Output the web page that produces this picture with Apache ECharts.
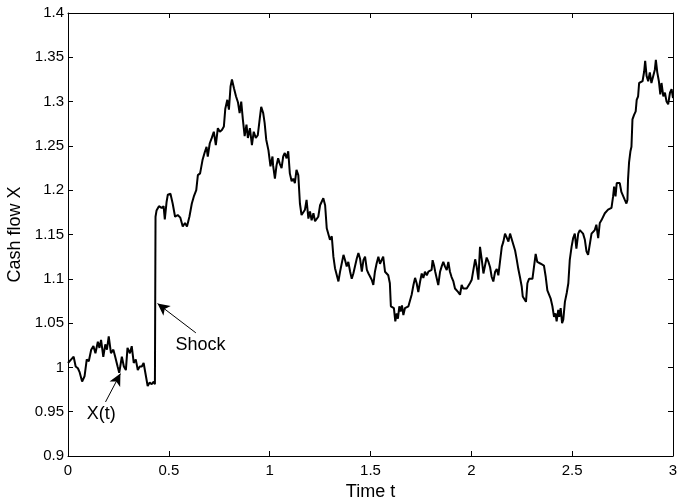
<!DOCTYPE html>
<html>
<head>
<meta charset="utf-8">
<script src="https://cdn.jsdelivr.net/npm/echarts@6/dist/echarts.min.js"></script>
<style>
  html, body { margin: 0; padding: 0; background: #fff; }
  #chart { width: 680px; height: 498px; }
</style>
</head>
<body>
<div id="chart"></div>
<script>
// Sampled path of the cash flow process X(t)
const times = [
  0.000, 0.016, 0.028, 0.038, 0.049, 0.057, 0.070, 0.082, 0.093, 0.103,
  0.115, 0.126, 0.136, 0.148, 0.156, 0.164, 0.175, 0.185, 0.193, 0.202,
  0.213, 0.225, 0.234, 0.246, 0.254, 0.267, 0.277, 0.287, 0.295, 0.307,
  0.316, 0.326, 0.336, 0.346, 0.356, 0.366, 0.375, 0.385, 0.395, 0.405,
  0.415, 0.425, 0.431, 0.434, 0.439, 0.451, 0.464, 0.474, 0.480, 0.489,
  0.495, 0.508, 0.519, 0.531, 0.544, 0.557, 0.569, 0.580, 0.590, 0.602,
  0.614, 0.624, 0.636, 0.644, 0.655, 0.667, 0.677, 0.687, 0.693, 0.703,
  0.713, 0.723, 0.733, 0.743, 0.753, 0.763, 0.773, 0.780, 0.790, 0.798,
  0.806, 0.813, 0.823, 0.833, 0.843, 0.851, 0.859, 0.867, 0.876, 0.885,
  0.892, 0.902, 0.912, 0.921, 0.931, 0.941, 0.951, 0.958, 0.968, 0.975,
  0.983, 0.994, 1.004, 1.014,
  1.017, 1.026, 1.034, 1.042, 1.050, 1.059, 1.067, 1.075, 1.084, 1.092,
  1.100, 1.109, 1.117, 1.125, 1.133, 1.142, 1.150, 1.158, 1.167, 1.175,
  1.183, 1.192, 1.200, 1.208, 1.217, 1.225, 1.233, 1.241, 1.250, 1.258,
  1.266, 1.275, 1.283, 1.291, 1.299, 1.308, 1.316, 1.324, 1.333, 1.341,
  1.349, 1.357, 1.366, 1.374, 1.382, 1.390, 1.399, 1.407, 1.415, 1.424,
  1.432, 1.440, 1.448, 1.457, 1.465, 1.473, 1.482, 1.490, 1.498, 1.506,
  1.514, 1.522, 1.530, 1.539, 1.547, 1.555, 1.563, 1.572, 1.580, 1.588,
  1.596, 1.601, 1.610, 1.616, 1.623, 1.630, 1.636, 1.643, 1.649, 1.656,
  1.663, 1.671, 1.679, 1.688, 1.696, 1.704, 1.713, 1.721, 1.729, 1.737,
  1.746, 1.754, 1.762, 1.770, 1.779, 1.787, 1.795, 1.803, 1.808, 1.815,
  1.821, 1.828, 1.836, 1.845, 1.853, 1.861, 1.869, 1.878, 1.886, 1.894,
  1.902, 1.911, 1.919, 1.927, 1.935, 1.944, 1.952, 1.960, 1.968, 1.977,
  1.985, 1.993, 2.002, 2.010, 2.019, 2.027, 2.035, 2.043, 2.052, 2.060,
  2.068, 2.076, 2.085, 2.093, 2.101, 2.109, 2.118, 2.126, 2.134, 2.142,
  2.151, 2.159, 2.167, 2.175, 2.184, 2.192, 2.200, 2.208, 2.217, 2.225,
  2.233, 2.241, 2.250, 2.255, 2.263, 2.271, 2.278, 2.286, 2.294, 2.303,
  2.311, 2.319, 2.327, 2.336, 2.344, 2.352, 2.360, 2.369, 2.377, 2.385,
  2.393, 2.402, 2.410, 2.417, 2.423, 2.431, 2.436, 2.443, 2.450, 2.456,
  2.464, 2.473, 2.481, 2.488, 2.497, 2.505, 2.513, 2.521, 2.530, 2.538,
  2.546, 2.554, 2.563, 2.571, 2.579, 2.587, 2.596, 2.604, 2.612, 2.620,
  2.629, 2.637, 2.645, 2.654, 2.662, 2.670, 2.678, 2.687, 2.695, 2.703,
  2.708, 2.715, 2.721, 2.728, 2.736, 2.744, 2.753, 2.761, 2.769, 2.774,
  2.777, 2.782, 2.789, 2.794, 2.799, 2.807, 2.815, 2.820, 2.827, 2.832,
  2.840, 2.849, 2.857, 2.862, 2.869, 2.877, 2.885, 2.893, 2.902, 2.910,
  2.915, 2.922, 2.930, 2.937, 2.943, 2.952, 2.960, 2.968, 2.976, 2.985,
  2.993, 3.000
];
const cashFlow = [
  1.005, 1.009, 1.012, 1.001, 0.999, 0.995, 0.984, 0.990, 1.009, 1.007,
  1.020, 1.024, 1.016, 1.029, 1.022, 1.031, 1.012, 1.026, 1.020, 1.035,
  1.016, 1.020, 1.012, 1.001, 0.994, 1.012, 1.001, 0.997, 1.022, 1.016,
  1.024, 1.005, 1.009, 0.997, 1.001, 1.001, 1.005, 0.992, 0.979, 0.983,
  0.981, 0.984, 0.981, 1.170, 1.177, 1.182, 1.180, 1.182, 1.167, 1.187,
  1.195, 1.196, 1.185, 1.170, 1.172, 1.169, 1.159, 1.163, 1.159, 1.170,
  1.185, 1.193, 1.200, 1.217, 1.219, 1.234, 1.242, 1.249, 1.238, 1.253,
  1.259, 1.266, 1.251, 1.270, 1.266, 1.268, 1.272, 1.292, 1.302, 1.291,
  1.317, 1.325, 1.315, 1.306, 1.299, 1.287, 1.300, 1.280, 1.261, 1.274,
  1.259, 1.270, 1.251, 1.266, 1.259, 1.262, 1.281, 1.294, 1.287, 1.276,
  1.257, 1.245, 1.227, 1.238,
  1.228, 1.213, 1.228, 1.236, 1.230, 1.225, 1.238, 1.242, 1.236, 1.244,
  1.219, 1.210, 1.213, 1.208, 1.223, 1.217, 1.185, 1.172, 1.172, 1.178,
  1.189, 1.168, 1.176, 1.166, 1.174, 1.165, 1.163, 1.170, 1.183, 1.187,
  1.191, 1.183, 1.157, 1.155, 1.144, 1.148, 1.125, 1.112, 1.110, 1.097,
  1.108, 1.110, 1.127, 1.121, 1.114, 1.119, 1.108, 1.100, 1.106, 1.108,
  1.123, 1.129, 1.123, 1.108, 1.121, 1.125, 1.110, 1.106, 1.108, 1.099,
  1.093, 1.108, 1.117, 1.125, 1.117, 1.119, 1.125, 1.108, 1.106, 1.104,
  1.095, 1.069, 1.070, 1.067, 1.052, 1.061, 1.055, 1.069, 1.063, 1.070,
  1.059, 1.067, 1.065, 1.069, 1.069, 1.082, 1.093, 1.101, 1.095, 1.085,
  1.097, 1.106, 1.101, 1.108, 1.104, 1.108, 1.106, 1.110, 1.121, 1.115,
  1.108, 1.101, 1.093, 1.108, 1.114, 1.119, 1.114, 1.110, 1.119, 1.108,
  1.102, 1.097, 1.089, 1.087, 1.085, 1.082, 1.093, 1.089, 1.091, 1.089,
  1.087, 1.095, 1.099, 1.099, 1.122, 1.113, 1.099, 1.136, 1.121, 1.106,
  1.115, 1.124, 1.119, 1.113, 1.102, 1.097, 1.108, 1.111, 1.104, 1.119,
  1.136, 1.142, 1.151, 1.153, 1.142, 1.151, 1.145, 1.143, 1.132, 1.122,
  1.111, 1.102, 1.091, 1.080, 1.078, 1.074, 1.095, 1.100, 1.099, 1.100,
  1.102, 1.128, 1.119, 1.119, 1.117, 1.115, 1.115, 1.102, 1.087, 1.085,
  1.078, 1.069, 1.057, 1.061, 1.052, 1.065, 1.057, 1.067, 1.050, 1.054,
  1.074, 1.084, 1.095, 1.121, 1.136, 1.146, 1.151, 1.134, 1.151, 1.155,
  1.153, 1.151, 1.144, 1.131, 1.127, 1.129, 1.151, 1.153, 1.155, 1.161,
  1.146, 1.163, 1.166, 1.165, 1.174, 1.176, 1.178, 1.180, 1.180, 1.193,
  1.204, 1.193, 1.208, 1.210, 1.208, 1.198, 1.197, 1.189, 1.185, 1.189,
  1.212, 1.231, 1.244, 1.249, 1.280, 1.285, 1.289, 1.302, 1.306, 1.321,
  1.321, 1.323, 1.334, 1.346, 1.329, 1.323, 1.333, 1.321, 1.329, 1.336,
  1.347, 1.333, 1.323, 1.308, 1.321, 1.306, 1.310, 1.300, 1.297, 1.310,
  1.314, 1.304
];

// Axis ticks
const xTicks = [0, 0.5, 1, 1.5, 2, 2.5, 3];
const yTicks = [0.9, 0.95, 1, 1.05, 1.1, 1.15, 1.2, 1.25, 1.3, 1.35, 1.4];
const xStep = 0.5;
const yStep = 0.05;

// Annotations: label anchor, arrow tail and arrow head in data units
const shockNote = { text: 'Shock', at: [0.533, 1.025], from: [0.634, 1.039], to: [0.444, 1.072] };
const pathNote = { text: 'X(t)', at: [0.093, 0.947], from: [0.186, 0.961], to: [0.260, 0.993] };

const FONT = 'Liberation Sans, Arial, sans-serif';
const chart = echarts.init(document.getElementById('chart'), null, { renderer: 'canvas' });

// Label text for a tick value, trimmed of floating-point noise
function tickText(v) {
  return String(parseFloat(v.toFixed(4)));
}

const baseAxis = {
  type: 'value',
  axisLine: { show: true, onZero: false, lineStyle: { color: '#000', width: 1 } },
  axisTick: { show: true, inside: true, length: 5, lineStyle: { color: '#000', width: 1 } },
  splitLine: { show: false },
  axisLabel: { color: '#000', fontFamily: FONT, fontSize: 15, formatter: tickText }
};

function note(n) {
  return [
    { coord: n.from, symbol: 'none' },
    { coord: n.to, symbol: 'arrow', symbolSize: [9, 12] }
  ];
}

chart.setOption({
  animation: false,
  backgroundColor: '#fff',
  grid: { left: 68, right: 7, top: 13, bottom: 42, containLabel: false, outerBoundsMode: 'none' },
  xAxis: [
    Object.assign({}, baseAxis, {
      min: xTicks[0], max: xTicks[xTicks.length - 1], interval: xStep,
      position: 'bottom',
      name: 'Time t', nameLocation: 'middle', nameGap: 22,
      nameTextStyle: { color: '#000', fontFamily: FONT, fontSize: 18 },
      axisLabel: Object.assign({}, baseAxis.axisLabel, { margin: 7, showMaxLabel: true, showMinLabel: true })
    }),
    Object.assign({}, baseAxis, {
      min: xTicks[0], max: xTicks[xTicks.length - 1], interval: xStep,
      position: 'top', axisLabel: { show: false }
    })
  ],
  yAxis: [
    Object.assign({}, baseAxis, {
      min: yTicks[0], max: yTicks[yTicks.length - 1], interval: yStep,
      position: 'left',
      name: 'Cash flow X', nameLocation: 'middle', nameGap: 42,
      nameTextStyle: { color: '#000', fontFamily: FONT, fontSize: 18 },
      axisLabel: Object.assign({}, baseAxis.axisLabel, { margin: 4 })
    }),
    Object.assign({}, baseAxis, {
      min: yTicks[0], max: yTicks[yTicks.length - 1], interval: yStep,
      position: 'right', axisLabel: { show: false }
    })
  ],
  series: [{
    type: 'line',
    data: times.map((t, i) => [t, cashFlow[i]]),
    showSymbol: false,
    symbol: 'none',
    lineStyle: { color: '#000', width: 2 },
    silent: true,
    markLine: {
      silent: true,
      animation: false,
      lineStyle: { color: '#000', width: 1, type: 'solid' },
      label: { show: false },
      data: [note(shockNote), note(pathNote)]
    },
    markPoint: {
      silent: true,
      symbol: 'circle',
      symbolSize: 0,
      label: {
        show: true, color: '#000', fontFamily: FONT, fontSize: 18,
        position: 'right', distance: 0,
        formatter: p => p.name
      },
      data: [
        { name: shockNote.text, coord: shockNote.at },
        { name: pathNote.text, coord: pathNote.at }
      ]
    }
  }]
});
</script>
</body>
</html>
